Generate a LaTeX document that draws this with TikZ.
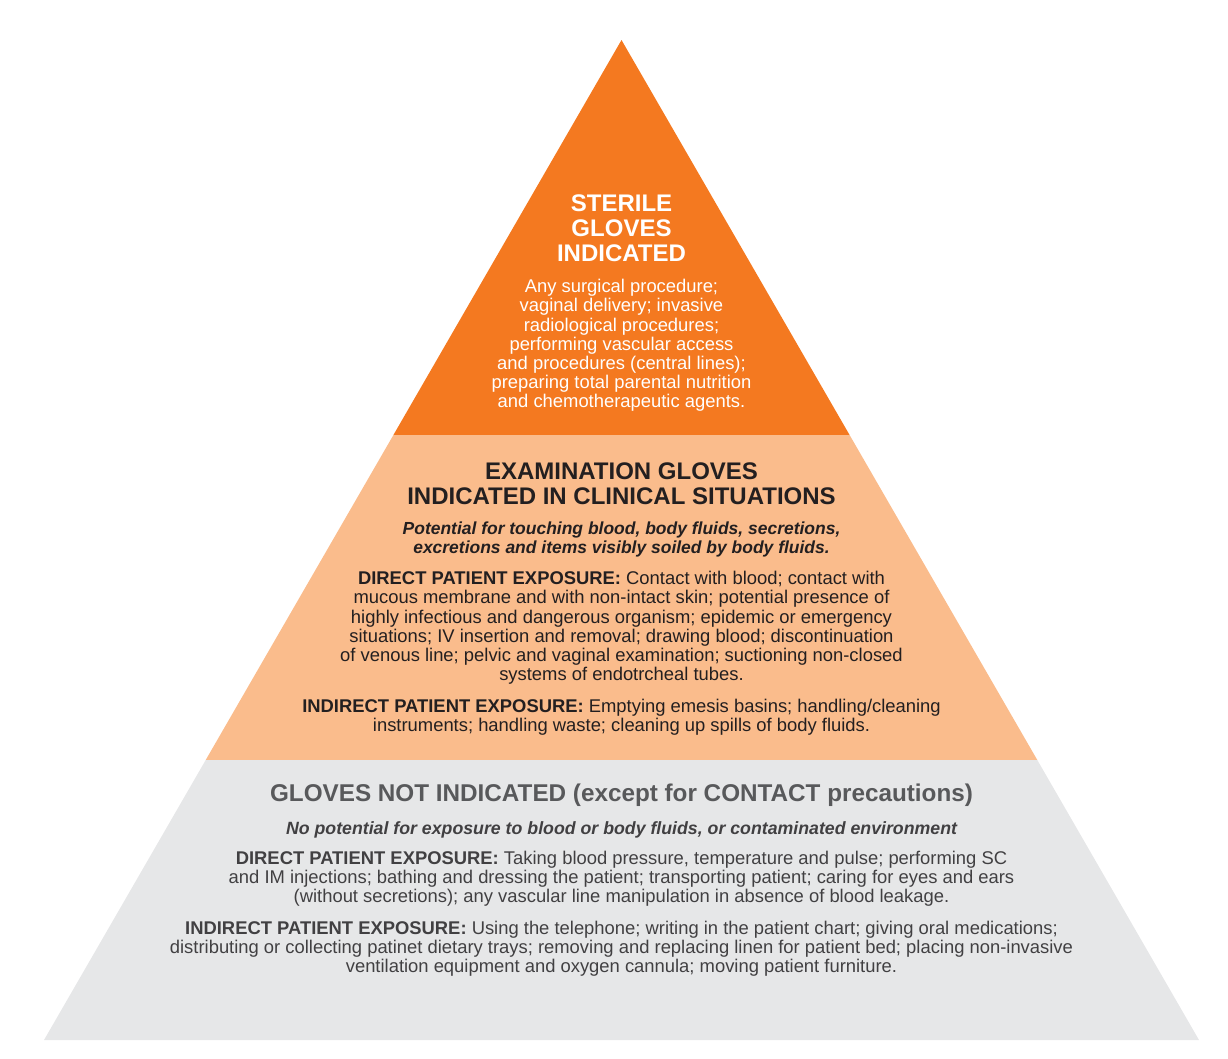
\documentclass[tikz,border=0pt]{standalone}
\usepackage{fontspec}
\setmainfont{Liberation Sans}
\usepackage{tikz}
\usetikzlibrary{positioning}
\definecolor{sterileorange}{HTML}{F47920}
\definecolor{exampeach}{HTML}{FABC8C}
\definecolor{nonegray}{HTML}{E6E7E8}
\definecolor{headgray}{HTML}{58595B}
\definecolor{bodygray}{HTML}{414042}
\definecolor{inkblack}{HTML}{231F20}
\tikzstyle{heading} = [align=center, inner sep=0pt, font=\bfseries\fontsize{18}{18.75}\selectfont]
\tikzstyle{body} = [align=center, inner sep=0pt, font=\fontsize{13.8}{14.4}\selectfont]
\tikzstyle{note} = [align=center, inner sep=0pt, font=\bfseries\itshape\fontsize{13.1}{14.4}\selectfont]

\begin{document}
\begin{tikzpicture}[x=0.75pt,y=-0.75pt]
\useasboundingbox (0,0) rectangle (1228,1058);
\coordinate (Apex) at (621.5,40);
\coordinate (SL) at (393.4,435);
\coordinate (SR) at (849.6,435);
\coordinate (EL) at (205.7,760);
\coordinate (ER) at (1037.3,760);
\coordinate (BL) at (44,1040);
\coordinate (BR) at (1199,1040);

\fill [sterileorange] (Apex) -- (SR) -- (SL) -- cycle;
\fill [exampeach] (SL) -- (SR) -- (ER) -- (EL) -- cycle;
\fill [nonegray] (EL) -- (ER) -- (BR) -- (BL) -- cycle;

\node [heading, white] (sterile) at (621.5,228) {STERILE\\GLOVES\\INDICATED};
\node [body, white] (sterilebody) at (621.5,345.5) {Any surgical procedure;\\vaginal delivery; invasive\\radiological procedures;\\performing vascular access\\and procedures (central lines);\\preparing total parental nutrition\\and chemotherapeutic agents.};

\node [heading, inkblack] (exam) at (621.5,483.5) {EXAMINATION GLOVES\\INDICATED IN CLINICAL SITUATIONS};
\node [note, inkblack] (examnote) at (621.5,539.5) {Potential for touching blood, body fluids, secretions,\\excretions and items visibly soiled by body fluids.};
\node [body, inkblack] (examdirect) at (621.5,628) {\textbf{DIRECT PATIENT EXPOSURE:} Contact with blood; contact with\\mucous membrane and with non-intact skin; potential presence of\\highly infectious and dangerous organism; epidemic or emergency\\situations; IV insertion and removal; drawing blood; discontinuation\\of venous line; pelvic and vaginal examination; suctioning non-closed\\systems of endotrcheal tubes.};
\node [body, inkblack] (examindirect) at (621.5,717.5) {\textbf{INDIRECT PATIENT EXPOSURE:} Emptying emesis basins; handling/cleaning\\instruments; handling waste; cleaning up spills of body fluids.};

\node [heading, headgray, font=\bfseries\fontsize{18.2}{18.75}\selectfont] (notind) at (621.5,795) {GLOVES NOT INDICATED (except for CONTACT precautions)};
\node [note, bodygray, font=\bfseries\itshape\fontsize{13.3}{14.4}\selectfont] (notindnote) at (621.5,830) {No potential for exposure to blood or body fluids, or contaminated environment};
\node [body, bodygray] (notinddirect) at (621.5,879) {\textbf{DIRECT PATIENT EXPOSURE:} Taking blood pressure, temperature and pulse; performing SC\\and IM injections; bathing and dressing the patient; transporting patient; caring for eyes and ears\\(without secretions); any vascular line manipulation in absence of blood leakage.};
\node [body, bodygray] (notindindirect) at (621.5,949) {\textbf{INDIRECT PATIENT EXPOSURE:} Using the telephone; writing in the patient chart; giving oral medications;\\distributing or collecting patinet dietary trays; removing and replacing linen for patient bed; placing non-invasive\\ventilation equipment and oxygen cannula; moving patient furniture.};
\end{tikzpicture}
\end{document}
